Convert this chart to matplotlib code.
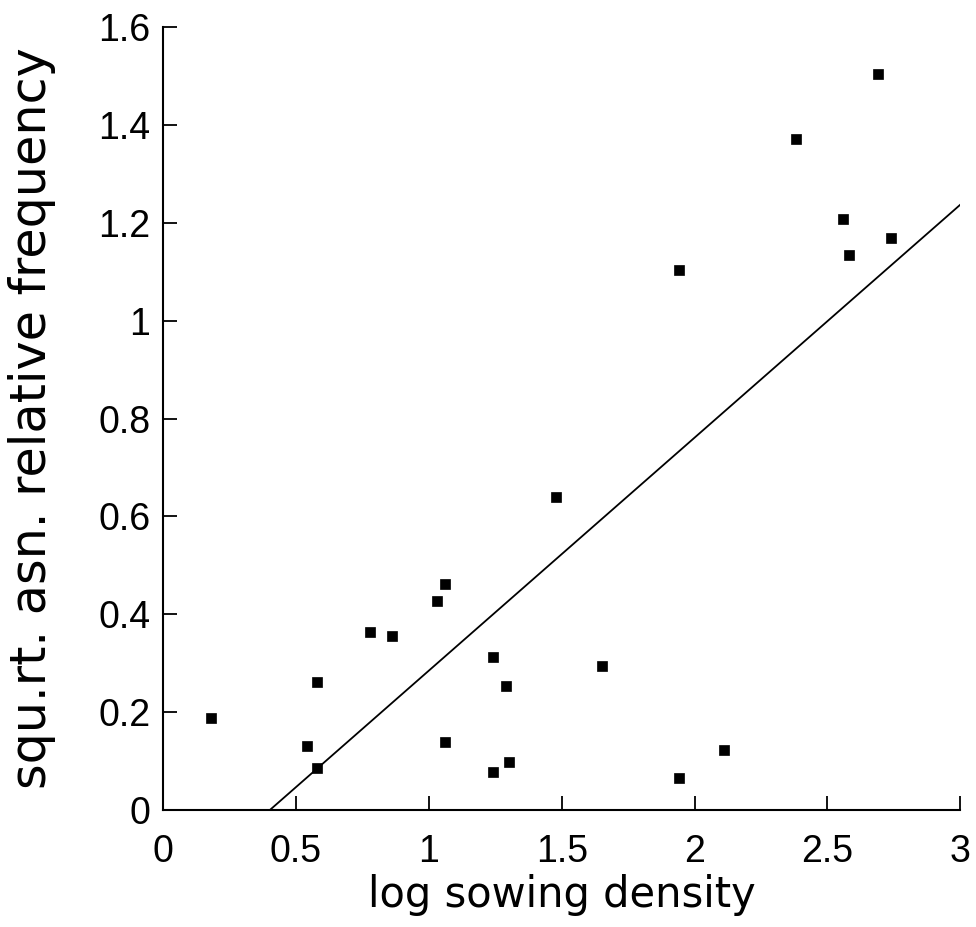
import numpy as np
import matplotlib
matplotlib.use("Agg")
from matplotlib import pyplot as plt

# scatter data
log_density = [0.18, 0.54, 0.58, 0.58, 0.78, 0.86, 1.03, 1.06, 1.06, 1.24, 1.24,
               1.29, 1.30, 1.48, 1.65, 1.94, 1.94, 2.11, 2.38, 2.56, 2.58, 2.69, 2.74]
sqrt_freq = [0.188, 0.131, 0.262, 0.086, 0.364, 0.356, 0.427, 0.462, 0.139, 0.313, 0.078,
             0.253, 0.098, 0.640, 0.294, 1.103, 0.065, 0.123, 1.371, 1.208, 1.134, 1.504, 1.169]

# fitted line (intercept, slope), drawn from where it crosses zero
fit_intercept = -0.191
fit_slope = 0.476

x_ticks = [0, 0.5, 1, 1.5, 2, 2.5, 3]
x_labels = ["0", "0.5", "1", "1.5", "2", "2.5", "3"]
y_ticks = [0, 0.2, 0.4, 0.6, 0.8, 1, 1.2, 1.4, 1.6]
y_labels = ["0", "0.2", "0.4", "0.6", "0.8", "1", "1.2", "1.4", "1.6"]

plt.rcParams["font.family"] = ["Liberation Sans", "DejaVu Sans"]

fig = plt.figure(figsize=(9.76, 9.27), dpi=100)
ax = fig.add_axes([0.167, 0.126, 0.817, 0.845])

ax.plot(log_density, sqrt_freq, "s", color="black", markersize=6.5, markeredgewidth=0.5)

x0 = -fit_intercept / fit_slope
xs = np.array([x0, 3.0])
ax.plot(xs, fit_intercept + fit_slope * xs, color="black", linewidth=1.3)

ax.set_xlim(0, 3)
ax.set_ylim(0, 1.6)
ax.set_xticks(x_ticks)
ax.set_xticklabels(x_labels)
ax.set_yticks(y_ticks)
ax.set_yticklabels(y_labels)

for s in ["top", "right"]:
    ax.spines[s].set_visible(False)
for s in ["left", "bottom"]:
    ax.spines[s].set_linewidth(1.5)

ax.tick_params(axis="x", direction="in", length=10, width=1.3, labelsize=27, pad=17)
ax.tick_params(axis="y", direction="in", length=10, width=1.3, labelsize=27, pad=9)

# the original lettering is widely spaced, DejaVu gets closer in width
ax.set_xlabel("log sowing density", fontsize=30, family="DejaVu Sans", va="baseline")
ax.set_ylabel("squ.rt. asn. relative frequency", fontsize=35.5, family="DejaVu Sans")
ax.xaxis.set_label_coords(0.5, -0.124)
ax.yaxis.set_label_coords(-0.134, 0.5)

plt.savefig("out.png", dpi=100)
